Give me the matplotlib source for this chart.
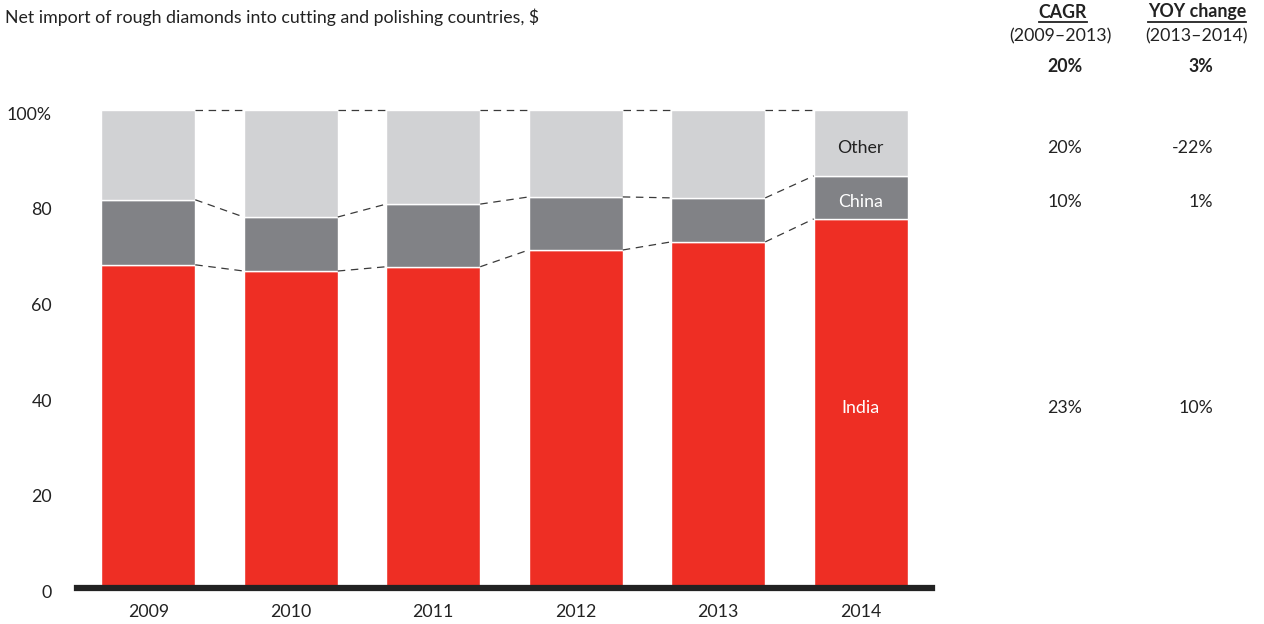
import matplotlib
matplotlib.use("Agg")
import matplotlib.pyplot as plt
import matplotlib.transforms as mtransforms
import numpy as np

plt.rcParams['font.family'] = ['Lato', 'DejaVu Sans']

years = ["2009", "2010", "2011", "2012", "2013", "2014"]
india = [67.6, 66.3, 67.2, 70.7, 72.4, 77.2]
china = [13.6, 11.3, 13.1, 11.1, 9.2, 9.0]
other = [100 - a - b for a, b in zip(india, china)]

segment_names = ["India", "China", "Other"]
cagr = ["23%", "10%", "20%"]
yoy = ["10%", "1%", "-22%"]
total_cagr = "20%"
total_yoy = "3%"

red = "#EE2E24"
dark_gray = "#818286"
light_gray = "#D1D2D4"
text_col = "#222222"
fs = 12.8

W, H = 1264, 624
fig = plt.figure(figsize=(W / 100, H / 100), dpi=100)
ax = fig.add_axes([77 / W, 36 / H, 855 / W, 502 / H])

x = np.arange(len(years))
width = 0.66
ax.bar(x, india, width, color=red, edgecolor="white", linewidth=1)
ax.bar(x, china, width, bottom=india, color=dark_gray, edgecolor="white", linewidth=1)
bottom2 = [a + b for a, b in zip(india, china)]
ax.bar(x, other, width, bottom=bottom2, color=light_gray, edgecolor="white", linewidth=1)

# dashed connectors between adjacent bars
levels = [india, bottom2, [100] * len(years)]
for lv in levels:
    for i in range(len(years) - 1):
        ax.plot([x[i] + width / 2, x[i + 1] - width / 2], [lv[i], lv[i + 1]],
                color="#3a3a3a", linestyle=(0, (6, 4.5)), linewidth=0.9)

ax.set_xlim(-0.5, 5.5)
ax.set_ylim(0, 105)
ax.set_yticks([0, 20, 40, 60, 80, 100])
ax.set_yticklabels(["0", "20", "40", "60", "80", "100%"])
ax.set_xticks(x)
ax.set_xticklabels(years)
ax.tick_params(length=0, labelsize=fs, colors=text_col)
ax.tick_params(axis="y", pad=18)
ax.tick_params(axis="x", pad=11.5)
for lbl in ax.get_yticklabels():
    lbl.set_transform(lbl.get_transform() + mtransforms.ScaledTranslation(0, -2.5 / 72, fig.dpi_scale_trans))
for s in ["top", "right", "left"]:
    ax.spines[s].set_visible(False)
ax.spines["bottom"].set_linewidth(4.5)
ax.spines["bottom"].set_color("#222222")

down = mtransforms.ScaledTranslation(0, -3.5 / 72, fig.dpi_scale_trans)

# segment labels in the last bar
last = len(years) - 1
mids = [india[last] / 2, india[last] + china[last] / 2, bottom2[last] + other[last] / 2]
label_cols = ["white", "white", text_col]
for name, m, c in zip(segment_names, mids, label_cols):
    ax.text(x[last], m, name, ha="center", va="center", color=c, fontsize=fs,
            transform=ax.transData + down)

fig.text(5 / W, 1 - 17 / H, "Net import of rough diamonds into cutting and polishing countries, $",
         ha="left", va="center", fontsize=fs, color=text_col)

# growth columns on the right
def fy(py):
    return 1 - py / H

t = fig.text(1063 / W, fy(12), "CAGR", ha="center", va="center", fontsize=fs,
             fontweight="bold", color=text_col)
t2 = fig.text(1197 / W, fy(12), "YOY change", ha="center", va="center", fontsize=fs,
              fontweight="bold", color=text_col)
fig.text(1060 / W, fy(36), "(2009\u20132013)", ha="center", va="center", fontsize=fs, color=text_col)
fig.text(1196 / W, fy(36), "(2013\u20132014)", ha="center", va="center", fontsize=fs, color=text_col)
fig.text(1082 / W, fy(66), total_cagr, ha="right", va="center", fontsize=fs,
         fontweight="bold", color=text_col)
fig.text(1213 / W, fy(66), total_yoy, ha="right", va="center", fontsize=fs,
         fontweight="bold", color=text_col)

# underline headers
fig.canvas.draw()
r = fig.canvas.get_renderer()
for txt in (t, t2):
    bb = txt.get_window_extent(renderer=r)
    fig.add_artist(plt.Line2D([bb.x0 / W, bb.x1 / W], [fy(22), fy(22)],
                              transform=fig.transFigure, color=text_col, linewidth=1.3))

for name, m, c1, c2 in zip(segment_names, mids, cagr, yoy):
    ypix = ax.transData.transform((0, m))[1] - 5
    fig.text(1082 / W, ypix / H, c1, ha="right", va="center", fontsize=fs, color=text_col)
    fig.text(1213 / W, ypix / H, c2, ha="right", va="center", fontsize=fs, color=text_col)

fig.savefig("out.png", dpi=100)
